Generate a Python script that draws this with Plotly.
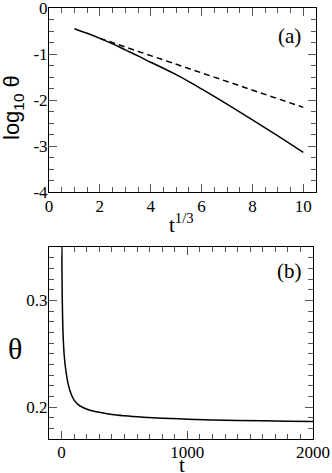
import plotly.graph_objects as go

# panel (a): log10 theta vs t^(1/3)
a_x = [1.0, 1.5, 2.0, 2.5, 3.0, 3.5, 4.0, 4.5, 5.0, 5.5, 6.0, 7.0, 8.0, 9.0, 10.0]
a_solid = [-0.45, -0.55, -0.66, -0.78, -0.91, -1.04, -1.18, -1.31, -1.45, -1.60, -1.76, -2.09, -2.43, -2.78, -3.14]
a_dash_x = [2.0, 10.0]
a_dash = [-0.66, -2.16]

# panel (b): theta vs t
b_t = [1, 2, 3, 5, 8, 12, 20, 30, 45, 60, 80, 100, 130, 170, 220, 300, 400, 500, 650, 800,
       1000, 1200, 1400, 1600, 1800, 2000]
b_theta = [0.40, 0.36, 0.33, 0.305, 0.285, 0.268, 0.250, 0.238, 0.226, 0.218, 0.211, 0.2065,
           0.2025, 0.1995, 0.1972, 0.1950, 0.1930, 0.1918, 0.1905, 0.1895, 0.1886, 0.1879,
           0.1874, 0.1870, 0.1867, 0.1865]

serif = "Liberation Serif"
sans = "Liberation Sans"

fig = go.Figure()
fig.add_trace(go.Scatter(x=a_x, y=a_solid, mode="lines", line=dict(color="black", width=1.5),
                         xaxis="x", yaxis="y", line_shape="spline"))
fig.add_trace(go.Scatter(x=a_dash_x, y=a_dash, mode="lines",
                         line=dict(color="black", width=1.5, dash="6px,4px"),
                         xaxis="x", yaxis="y"))
fig.add_trace(go.Scatter(x=b_t, y=b_theta, mode="lines", line=dict(color="black", width=1.5),
                         xaxis="x2", yaxis="y2", line_shape="spline"))

common = dict(showgrid=False, zeroline=False, showline=True, linecolor="black", linewidth=1,
              mirror="ticks", ticks="inside", ticklen=8, tickcolor="#555", tickwidth=1,
              automargin=False, ticklabeloverflow="allow",
              tickfont=dict(family=serif, size=17, color="black"))


def label(text, x, y, size, family=serif, angle=0):
    # place text by pixel position (from top-left of the 332x473 picture)
    return dict(text=text, x=x/332, y=(473-y)/473, xref="paper", yref="paper",
                xanchor="center", yanchor="middle", textangle=angle, showarrow=False,
                font=dict(family=family, size=size, color="black"))


fig.update_layout(
    width=332, height=473,
    margin=dict(l=0, r=0, t=0, b=0),
    font=dict(family=serif, color="black"),
    paper_bgcolor="white", plot_bgcolor="white",
    showlegend=False,
    xaxis=dict(domain=[49/332, 316/332], anchor="y", range=[0, 10.5],
               tickvals=[0, 2, 4, 6, 8, 10], ticktext=["0", "2", "4", "6", "8", "10"],
               minor=dict(dtick=0.5, tick0=0, ticks="inside", ticklen=5, tickcolor="#555"),
               ticklabelstandoff=-1, **common),
    yaxis=dict(domain=[(473-192)/473, (473-8)/473], anchor="x", range=[-4, 0],
               tickvals=[-4, -3, -2, -1, 0], ticktext=["-4", "-3", "-2", "-1", "0"],
               minor=dict(dtick=0.25, tick0=0, ticks="inside", ticklen=5, tickcolor="#555"),
               ticklabelstandoff=-3, **common),
    xaxis2=dict(domain=[49/332, 313/332], anchor="y2", range=[-100, 2000],
                tickvals=[0, 1000, 2000],
                minor=dict(dtick=100, tick0=0, ticks="inside", ticklen=5, tickcolor="#555"),
                ticklabelstandoff=-2, **common),
    yaxis2=dict(domain=[(473-439)/473, (473-247)/473], anchor="x2", range=[0.17, 0.35],
                tickvals=[0.2, 0.3], ticktext=["0.2", "0.3"],
                minor=dict(dtick=0.01, tick0=0, ticks="inside", ticklen=5, tickcolor="#555"),
                ticklabelstandoff=-3, **common),
    annotations=[
        label("log<sub>10</sub> θ", 13, 108, 22, family=sans, angle=-90),
        label("t<sup>1/3</sup>", 181, 223, 21),
        label("(a)", 289, 36, 21),
        label("θ", 15, 349, 30),
        label("t", 182, 465, 21),
        label("(b)", 289, 271, 21),
    ],
)

fig.write_html("out.html", config={"displayModeBar": False},
               post_script="document.body.style.margin='0px';")
